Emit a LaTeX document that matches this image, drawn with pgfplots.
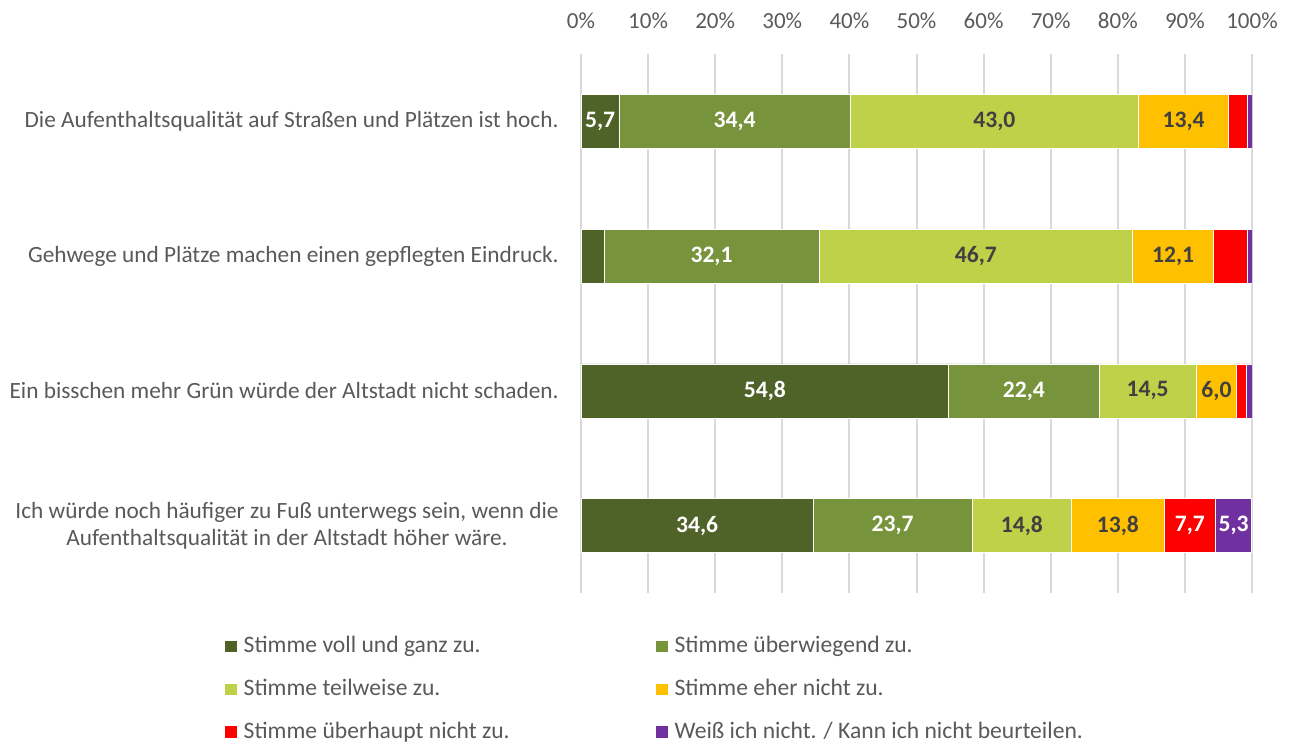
\documentclass[border=0pt]{standalone}
\usepackage{fontspec}
\setmainfont{Carlito}
\usepackage{pgfplots}
\pgfplotsset{compat=1.18}
\definecolor{cDark}{HTML}{4F6228}
\definecolor{cMid}{HTML}{77933C}
\definecolor{cLight}{HTML}{BFD049}
\definecolor{cYel}{HTML}{FFC000}
\definecolor{cRed}{HTML}{FF0000}
\definecolor{cPur}{HTML}{7030A0}
\definecolor{txt}{HTML}{595959}
\definecolor{lab}{HTML}{404040}
\definecolor{gridc}{HTML}{D9D9D9}
\pgfplotsset{frame/.style={
  at={(290.5pt,345.5pt)}, anchor=north west,
  scale only axis, width=335.5pt, height=269.5pt,
  xmin=0, xmax=100, ymin=-0.5, ymax=3.5, y dir=reverse}}
\begin{document}
\begin{tikzpicture}
\path[use as bounding box] (0,0) rectangle (645pt,372.5pt);
\begin{axis}[
  frame,
  xbar stacked, bar width=27pt,
  xtick={0,10,...,100}, xticklabel={\pgfmathprintnumber{\tick}\%},
  xticklabel pos=upper,
  xticklabel style={font=\fontsize{11.5}{13}\selectfont, text=txt, inner sep=0pt, yshift=12.3pt},
  ytick={0,1,2,3},
  yticklabels={Die Aufenthaltsqualität auf Straßen und Plätzen ist hoch.,
    Gehwege und Plätze machen einen gepflegten Eindruck.,
    Ein bisschen mehr Grün würde der Altstadt nicht schaden.,
    {Ich würde noch häufiger zu Fuß unterwegs sein, wenn die\\Aufenthaltsqualität in der Altstadt höher wäre.}},
  yticklabel style={font=\fontsize{11.65}{13.5}\selectfont, text=txt, align=center, inner sep=0pt, xshift=-11pt},
  major tick length=0pt,
  axis line style={draw=none},
  xmajorgrids, grid style={gridc, line width=1pt},
  /pgf/number format/assume math mode=true,
  legend image code/.code={\fill[#1] (0pt,-3.2pt) rectangle (6.35pt,3.2pt);},
  legend columns=2,
  legend cell align=left,
  legend style={draw=none, fill=none, inner sep=0pt, at={(axis description cs:-0.532,-0.080)}, anchor=north west,
    font=\fontsize{11.8}{13}\selectfont, text=txt, column sep=3pt, row sep=11.8pt, nodes={inner sep=0pt}},
]
\addplot[fill=cDark, draw=white, line width=0.3pt]
  coordinates {(5.7,0) (3.4,1) (54.8,2) (34.6,3)};
\addplot[fill=cMid, draw=white, line width=0.3pt]
  coordinates {(34.4,0) (32.1,1) (22.4,2) (23.7,3)};
\addplot[fill=cLight, draw=white, line width=0.3pt]
  coordinates {(43.0,0) (46.7,1) (14.5,2) (14.8,3)};
\addplot[fill=cYel, draw=white, line width=0.3pt]
  coordinates {(13.4,0) (12.1,1) (6.0,2) (13.8,3)};
\addplot[fill=cRed, draw=white, line width=0.3pt]
  coordinates {(2.8,0) (5.0,1) (1.4,2) (7.7,3)};
\addplot[fill=cPur, draw=white, line width=0.3pt]
  coordinates {(0.7,0) (0.7,1) (0.9,2) (5.3,3)};
\legend{\makebox[202.8pt][l]{Stimme voll und ganz zu.}, Stimme überwiegend zu.,
  Stimme teilweise zu., Stimme eher nicht zu.,
  Stimme überhaupt nicht zu., Weiß ich nicht. / Kann ich nicht beurteilen.}
\end{axis}
% segment labels, placed at the middle of each segment
\begin{axis}[frame, hide axis,
  point meta=explicit symbolic,
  nodes near coords,
  every node near coord/.append style={anchor=center, inner sep=0pt, font=\fontsize{11.8}{13}\selectfont\bfseries}]
\addplot[draw=none, mark=none, every node near coord/.append style={text=white}]
  coordinates {(2.85,0) [5,7] (22.9,0) [34,4] (19.45,1) [32,1] (27.4,2) [54,8] (66.0,2) [22,4]
               (17.3,3) [34,6] (46.45,3) [23,7] (90.75,3) [7,7] (97.25,3) [5,3]};
\addplot[draw=none, mark=none, every node near coord/.append style={text=lab}]
  coordinates {(61.6,0) [43,0] (89.8,0) [13,4] (58.85,1) [46,7] (88.25,1) [12,1]
               (84.45,2) [14,5] (94.7,2) [6,0] (65.7,3) [14,8] (80.0,3) [13,8]};
\end{axis}
\end{tikzpicture}
\end{document}
